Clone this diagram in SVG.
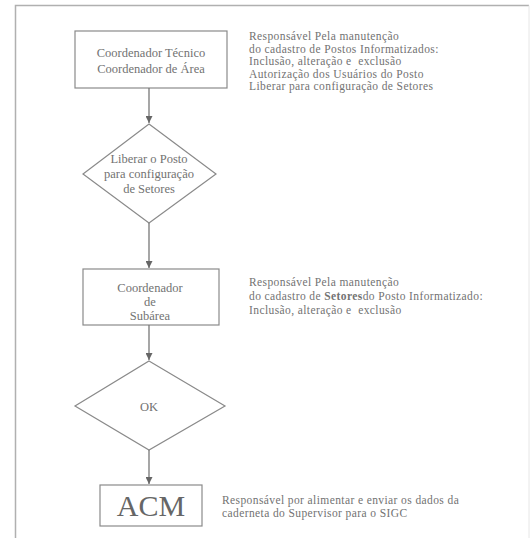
<svg xmlns="http://www.w3.org/2000/svg" width="531" height="538" viewBox="0 0 531 538">
<style>
.shape{fill:none;stroke:#8a8a8a;stroke-width:1.2}
.t{font-size:11.5px;letter-spacing:0.4px;fill:#727272}
.b{font-size:12.5px;fill:#727272;text-anchor:middle}
.conn line{stroke:#777;stroke-width:1.3}
</style>
<defs>
<marker id="ah" viewBox="0 0 10 10" refX="10" refY="5" markerWidth="7" markerHeight="7" orient="auto" markerUnits="userSpaceOnUse">
<path d="M0,0 L10,5 L0,10 Z" fill="#666"/>
</marker>
</defs>
<rect width="531" height="538" fill="#fff"/>
<path d="M15.5,538 V5.5 H529" fill="none" stroke="#b0b0b0" stroke-width="1.5"/>
<line x1="529" y1="5.5" x2="529" y2="538" stroke="#e6e6e6" stroke-width="1"/>

<g font-family="'Liberation Serif','Times New Roman',serif">
<g id="coordTecnico">
<rect class="shape" x="75" y="31" width="152" height="57"/>
<text class="b" x="151" y="57" font-size="13">Coordenador Técnico</text>
<text class="b" x="151" y="73" font-size="13">Coordenador de Área</text>
</g>
<g id="desc1">
<text class="t" x="249" y="40">Responsável Pela manutenção</text>
<text class="t" x="249" y="52.5">do cadastro de Postos Informatizados:</text>
<text class="t" x="249" y="65">Inclusão, alteração e&#160; exclusão</text>
<text class="t" x="249" y="77.5">Autorização dos Usuários do Posto</text>
<text class="t" x="249" y="90">Liberar para configuração de Setores</text>
</g>

<g id="liberarPosto">
<polygon class="shape" points="149,124 216,174 149,223 83,174"/>
<text class="b" x="149" y="163">Liberar o Posto</text>
<text class="b" x="149" y="178">para configuração</text>
<text class="b" x="149" y="193">de Setores</text>
</g>

<g id="coordSubarea">
<rect class="shape" x="83" y="269" width="136" height="56"/>
<text class="b" x="150" y="292">Coordenador</text>
<text class="b" x="150" y="306">de</text>
<text class="b" x="150" y="320">Subárea</text>
</g>
<g id="desc2">
<text class="t" x="249" y="286">Responsável Pela manutenção</text>
<text class="t" x="249" y="300">do cadastro de <tspan font-weight="bold">Setores</tspan>do Posto Informatizado:</text>
<text class="t" x="249" y="314">Inclusão, alteração e&#160; exclusão</text>
</g>

<g id="ok">
<polygon class="shape" points="149,361 225,406 149,450 75,406"/>
<text class="b" x="149" y="411">OK</text>
</g>

<g id="acm">
<rect class="shape" x="100" y="485" width="102" height="41"/>
<text x="151" y="516" text-anchor="middle" font-size="30" fill="#666">ACM</text>
</g>
<g id="desc3">
<text class="t" x="222" y="504">Responsável por alimentar e enviar os dados da</text>
<text class="t" x="222" y="517">caderneta do Supervisor para o SIGC</text>
</g>
</g>

<g class="conn" id="connectors">
<line x1="149" y1="88" x2="149" y2="123" marker-end="url(#ah)"/>
<line x1="149" y1="223" x2="149" y2="268" marker-end="url(#ah)"/>
<line x1="149" y1="325" x2="149" y2="360" marker-end="url(#ah)"/>
<line x1="149" y1="450" x2="149" y2="484" marker-end="url(#ah)"/>
</g>
</svg>
